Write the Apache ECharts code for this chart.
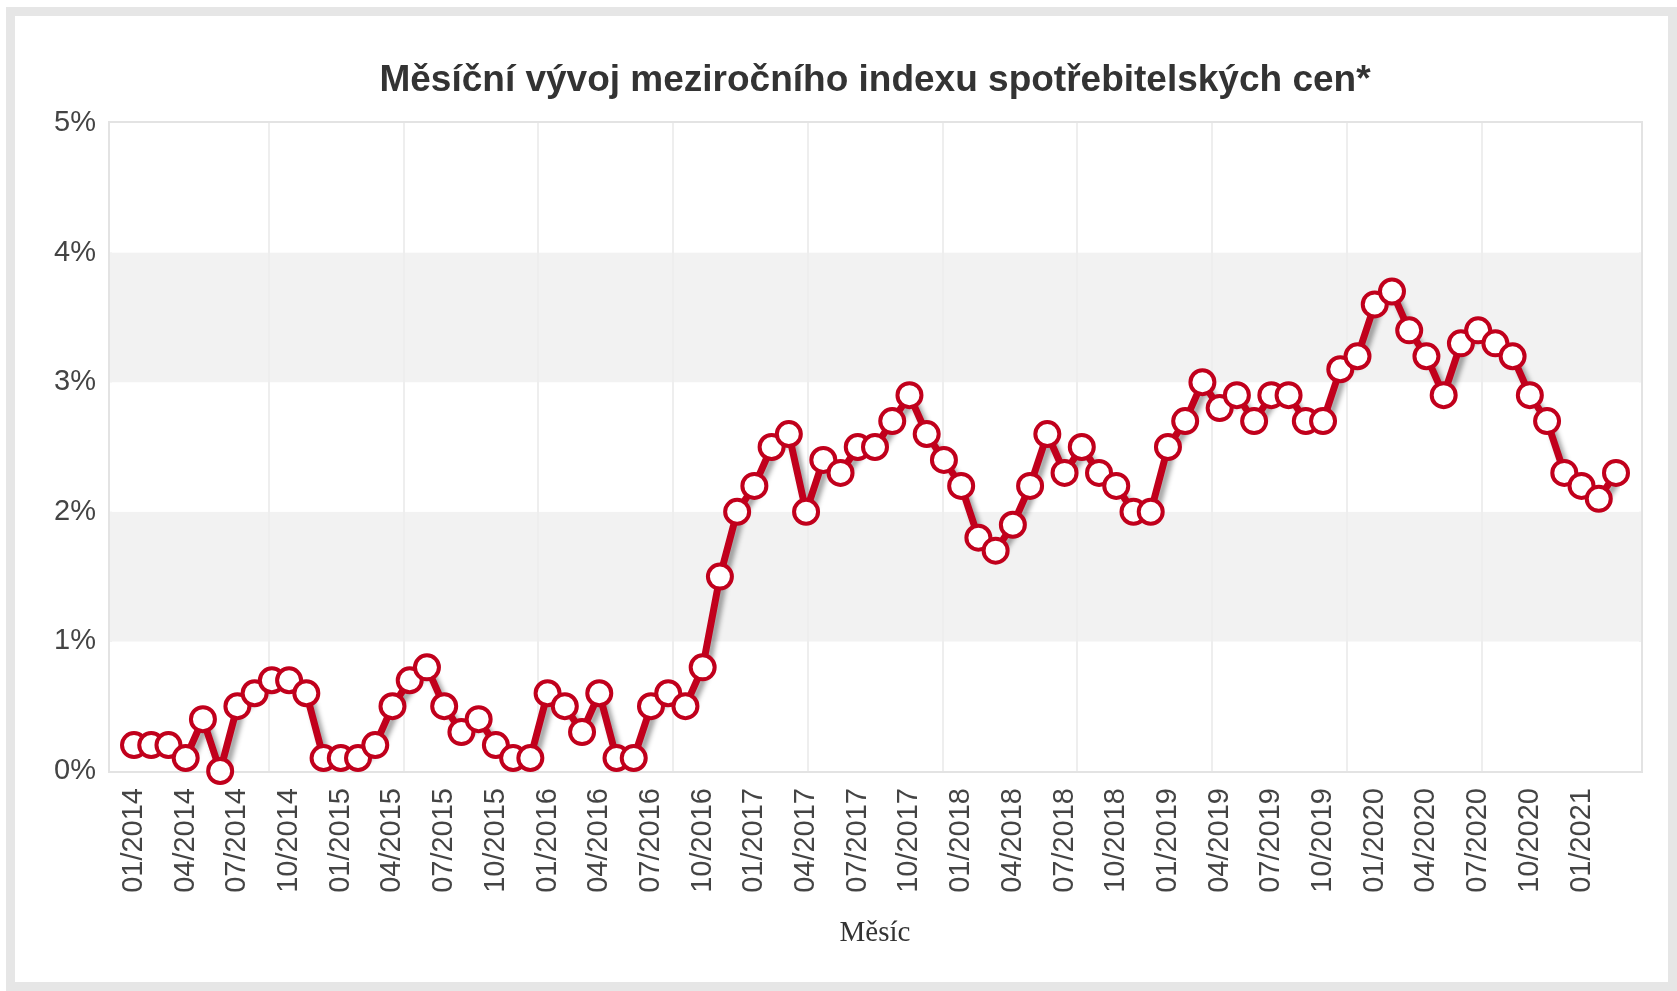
<!DOCTYPE html>
<html>
<head>
<meta charset="utf-8">
<script src="https://cdn.jsdelivr.net/npm/echarts@6/dist/echarts.min.js"></script>
<style>
html, body { margin: 0; padding: 0; background: #ffffff; }
#frame { position: absolute; left: 6px; top: 7px; width: 1671px; height: 984px; box-sizing: border-box; border: 9px solid #e6e6e6; }
#chart { position: absolute; left: 0; top: 0; width: 1677px; height: 991px; }
</style>
</head>
<body>
<div id="frame"></div>
<div id="chart"></div>
<script>
const titleText = 'Měsíční vývoj meziročního indexu spotřebitelských cen*';
const axisName = 'Měsíc';

const months = [
  '01/2014','02/2014','03/2014','04/2014','05/2014','06/2014','07/2014','08/2014','09/2014','10/2014','11/2014','12/2014',
  '01/2015','02/2015','03/2015','04/2015','05/2015','06/2015','07/2015','08/2015','09/2015','10/2015','11/2015','12/2015',
  '01/2016','02/2016','03/2016','04/2016','05/2016','06/2016','07/2016','08/2016','09/2016','10/2016','11/2016','12/2016',
  '01/2017','02/2017','03/2017','04/2017','05/2017','06/2017','07/2017','08/2017','09/2017','10/2017','11/2017','12/2017',
  '01/2018','02/2018','03/2018','04/2018','05/2018','06/2018','07/2018','08/2018','09/2018','10/2018','11/2018','12/2018',
  '01/2019','02/2019','03/2019','04/2019','05/2019','06/2019','07/2019','08/2019','09/2019','10/2019','11/2019','12/2019',
  '01/2020','02/2020','03/2020','04/2020','05/2020','06/2020','07/2020','08/2020','09/2020','10/2020','11/2020','12/2020',
  '01/2021','02/2021','03/2021'
];

const cpi2014 = [0.2, 0.2, 0.2, 0.1, 0.4, 0.0, 0.5, 0.6, 0.7, 0.7, 0.6, 0.1];
const cpi2015 = [0.1, 0.1, 0.2, 0.5, 0.7, 0.8, 0.5, 0.3, 0.4, 0.2, 0.1, 0.1];
const cpi2016 = [0.6, 0.5, 0.3, 0.6, 0.1, 0.1, 0.5, 0.6, 0.5, 0.8, 1.5, 2.0];
const cpi2017 = [2.2, 2.5, 2.6, 2.0, 2.4, 2.3, 2.5, 2.5, 2.7, 2.9, 2.6, 2.4];
const cpi2018 = [2.2, 1.8, 1.7, 1.9, 2.2, 2.6, 2.3, 2.5, 2.3, 2.2, 2.0, 2.0];
const cpi2019 = [2.5, 2.7, 3.0, 2.8, 2.9, 2.7, 2.9, 2.9, 2.7, 2.7, 3.1, 3.2];
const cpi2020 = [3.6, 3.7, 3.4, 3.2, 2.9, 3.3, 3.4, 3.3, 3.2, 2.9, 2.7, 2.3];
const cpi2021 = [2.2, 2.1, 2.3];

const values = [].concat(cpi2014, cpi2015, cpi2016, cpi2017, cpi2018, cpi2019, cpi2020, cpi2021);

const yMin = 0, yMax = 5, yStep = 1;
const vGridDivisions = 11;

const RED = '#c1001c';
const chart = echarts.init(document.getElementById('chart'), null, { renderer: 'canvas' });

const option = {
  animation: false,
  graphic: [{
    type: 'text',
    x: 875, y: 81,
    style: {
      text: titleText,
      fontFamily: 'Liberation Sans, Arial, sans-serif',
      fontSize: 37,
      fontWeight: 'bold',
      fill: '#333333',
      align: 'center',
      verticalAlign: 'middle'
    }
  }],
  grid: [
    { left: 110, right: 36, top: 123, bottom: 220, show: true, borderColor: '#e3e3e3', borderWidth: 4, backgroundColor: 'transparent', containLabel: false },
    { left: 134, right: 61, top: 123, bottom: 220, containLabel: false }
  ],
  xAxis: [
    { gridIndex: 0, type: 'value', min: 0, max: 1, show: false },
    {
      gridIndex: 1, type: 'category', data: months, boundaryGap: false,
      axisLine: { show: false }, axisTick: { show: false },
      axisLabel: {
        interval: 2, rotate: 90, margin: 17,
        fontFamily: 'Liberation Sans, Arial, sans-serif', fontSize: 29, color: '#444444'
      },
      splitLine: { show: false },
      name: axisName, nameLocation: 'middle', nameGap: 148,
      nameTextStyle: { fontFamily: 'Liberation Serif, Times New Roman, serif', fontSize: 29, color: '#333333' }
    },
    {
      gridIndex: 1, type: 'value', min: 0, max: vGridDivisions, interval: 1, position: 'top', z: 1,
      axisLine: { show: false }, axisTick: { show: false }, axisLabel: { show: false },
      splitLine: { show: true, showMinLine: false, showMaxLine: false, lineStyle: { color: '#eeeeee', width: 2 } }
    }
  ],
  yAxis: [
    {
      gridIndex: 0, type: 'value', min: yMin, max: yMax, interval: yStep,
      axisLine: { show: false }, axisTick: { show: false },
      axisLabel: {
        formatter: '{value}%', margin: 14,
        fontFamily: 'Liberation Sans, Arial, sans-serif', fontSize: 29, color: '#444444'
      },
      splitLine: { show: false },
      splitArea: { show: true, areaStyle: { color: ['#ffffff', '#f2f2f2'] } }
    },
    { gridIndex: 1, type: 'value', min: yMin, max: yMax, show: false }
  ],
  series: [{
    type: 'line',
    xAxisIndex: 1, yAxisIndex: 1,
    data: values,
    z: 3,
    symbol: 'circle', symbolSize: 24,
    showAllSymbol: true,
    lineStyle: { color: RED, width: 7, shadowColor: 'rgba(0,0,0,0.38)', shadowBlur: 5, shadowOffsetX: 4, shadowOffsetY: 4 },
    itemStyle: { color: '#ffffff', borderColor: RED, borderWidth: 4 }
  }]
};
chart.setOption(option);
</script>
</body>
</html>
